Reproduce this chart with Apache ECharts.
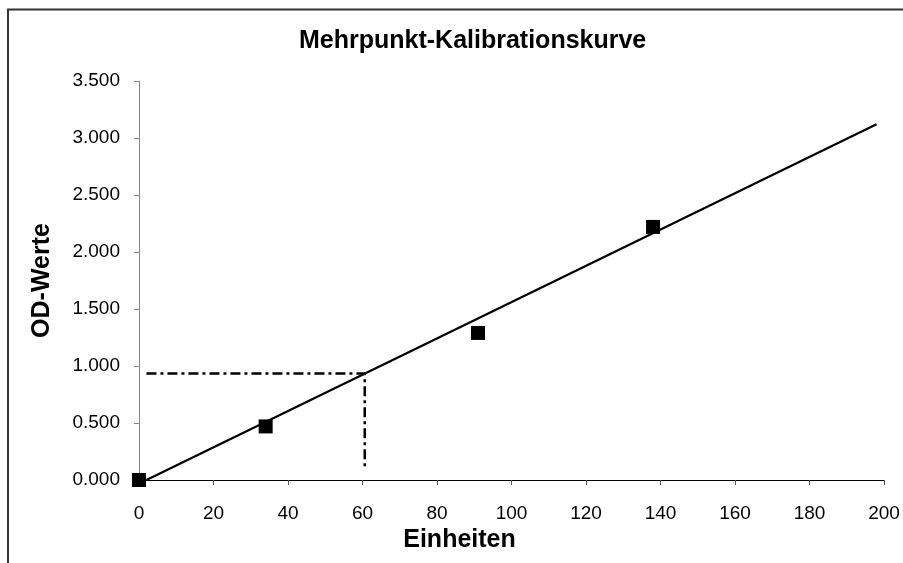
<!DOCTYPE html>
<html>
<head>
<meta charset="utf-8">
<script src="https://cdn.jsdelivr.net/npm/echarts@6/dist/echarts.min.js"></script>
<style>
  html, body { margin: 0; padding: 0; background: #fff; }
  #chart { width: 903px; height: 563px; }
</style>
</head>
<body>
<div id="chart"></div>
<script>
// Messpunkte
var einheiten = [0, 34, 91, 138];
var odWerte = [0, 0.47, 1.29, 2.22];
// Ausgleichsgerade (Endpunkte)
var trendX = [2, 198];
var trendY = [0, 3.12];
// Ablese-Hilfslinie
var guideX = [2, 60.6, 60.6];
var guideY = [0.935, 0.935, 0.1];

var titel = 'Mehrpunkt-Kalibrationskurve';
var xName = 'Einheiten';
var yName = 'OD-Werte';

function pairs(xs, ys) {
  return xs.map(function (x, i) { return [x, ys[i]]; });
}

var font = '"Liberation Sans", Arial, sans-serif';
var chart = echarts.init(document.getElementById('chart'));

chart.setOption({
  animation: false,
  backgroundColor: '#fff',
  title: {
    text: titel,
    left: 299,
    top: 29,
    padding: 0,
    textStyle: { fontFamily: font, fontSize: 25, fontWeight: 'bold', color: '#000' }
  },
  grid: { left: 139, right: 19, top: 81, bottom: 83, containLabel: false },
  xAxis: {
    type: 'value',
    min: 0, max: 200, interval: 20,
    name: xName,
    nameLocation: 'middle',
    nameGap: 47,
    nameTextStyle: { fontFamily: font, fontSize: 25, fontWeight: 'bold', color: '#000', padding: [0, 104, 0, 0] },
    axisLine: { lineStyle: { color: '#000', width: 1 } },
    axisTick: { show: true, length: 5, inside: false, lineStyle: { color: '#555' } },
    axisLabel: { fontFamily: font, fontSize: 19, color: '#000', margin: 24 },
    splitLine: { show: false }
  },
  yAxis: {
    type: 'value',
    min: 0, max: 3.5, interval: 0.5,
    name: yName,
    nameLocation: 'middle',
    nameGap: 84,
    nameTextStyle: { fontFamily: font, fontSize: 25, fontWeight: 'bold', color: '#000' },
    axisLine: { show: true, lineStyle: { color: '#888', width: 1 } },
    axisTick: { show: true, length: 5, inside: false, lineStyle: { color: '#888' } },
    axisLabel: {
      fontFamily: font, fontSize: 19, color: '#000', margin: 19,
      formatter: function (v) { return v.toFixed(3); }
    },
    splitLine: { show: false }
  },
  graphic: [{
    type: 'polyline',
    shape: { points: [[8, 563], [8, 9.5], [903, 9.5]] },
    style: { stroke: '#333', lineWidth: 2, fill: null },
    silent: true
  }],
  series: [
    {
      name: 'Hilfslinie',
      type: 'line',
      data: pairs(guideX, guideY),
      symbol: 'none',
      lineStyle: { color: '#000', width: 2.5, type: [10, 4, 3, 4] },
      z: 2
    },
    {
      name: 'Trend',
      type: 'line',
      data: pairs(trendX, trendY),
      symbol: 'none',
      lineStyle: { color: '#000', width: 2.2 },
      z: 3
    },
    {
      name: 'Messwerte',
      type: 'scatter',
      data: pairs(einheiten, odWerte),
      symbol: 'rect',
      symbolSize: 14,
      itemStyle: { color: '#000', opacity: 1 },
      clip: false,
      z: 4
    }
  ]
});
</script>
</body>
</html>
